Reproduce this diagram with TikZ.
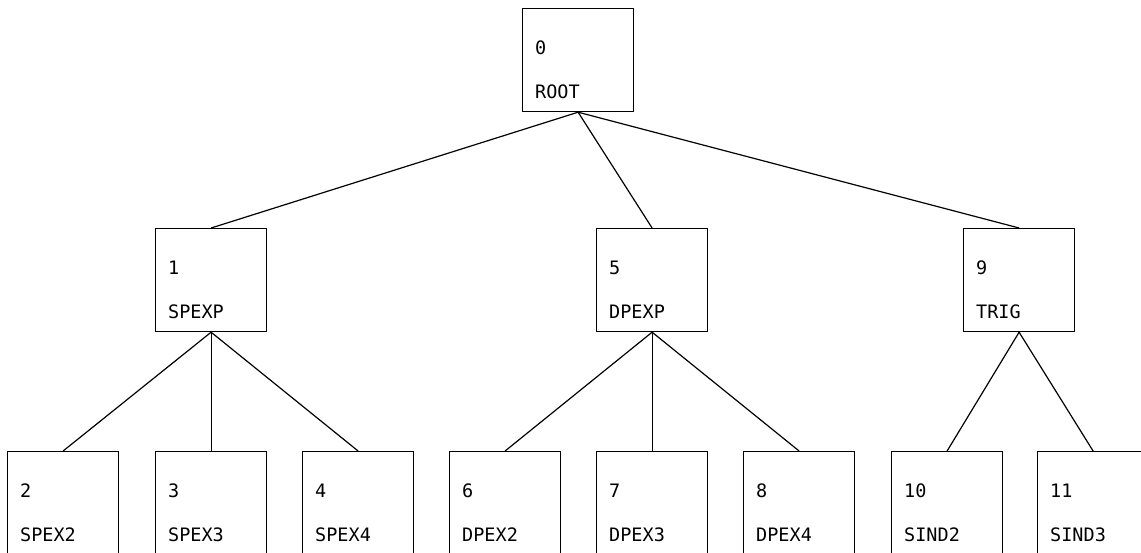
\documentclass[tikz,border=0pt]{standalone}
\usepackage{fontspec}
\setmonofont{DejaVu Sans Mono}
\tikzset{
  treebox/.style={draw, line width=1.2pt, minimum width=111pt, minimum height=103pt,
    inner sep=0pt, anchor=north west},
  boxtext/.style={font=\ttfamily\fontsize{18.5}{18.5}\selectfont, inner sep=0pt, anchor=base west},
  edge/.style={line width=1.2pt}
}
% box with its number and its name, placed by its top left corner
\newcommand{\treenode}[5]{%
  \node[treebox] (#1) at (#2,#3) {};
  \node[boxtext] (#1-num) at ([shift={(13,46)}]#1.north west) {#4};
  \node[boxtext] (#1-name) at ([shift={(13,90)}]#1.north west) {#5};
}
\begin{document}
\begin{tikzpicture}[x=1pt,y=-1pt]
\useasboundingbox (0,0) rectangle (1141,552);
\clip (0,0) rectangle (1141,552);
\treenode{root}{522}{8}{0}{ROOT}
\treenode{n1}{155}{228}{1}{SPEXP}
\treenode{n5}{596}{228}{5}{DPEXP}
\treenode{n9}{963}{228}{9}{TRIG}
\treenode{n2}{7}{451}{2}{SPEX2}
\treenode{n3}{155}{451}{3}{SPEX3}
\treenode{n4}{302}{451}{4}{SPEX4}
\treenode{n6}{449}{451}{6}{DPEX2}
\treenode{n7}{596}{451}{7}{DPEX3}
\treenode{n8}{743}{451}{8}{DPEX4}
\treenode{n10}{891}{451}{10}{SIND2}
\treenode{n11}{1037}{451}{11}{SIND3}
\foreach \c in {n1,n5,n9} \draw[edge] (root.south) -- (\c.north);
\foreach \c in {n2,n3,n4} \draw[edge] (n1.south) -- (\c.north);
\foreach \c in {n6,n7,n8} \draw[edge] (n5.south) -- (\c.north);
\foreach \c in {n10,n11} \draw[edge] (n9.south) -- (\c.north);
\end{tikzpicture}
\end{document}
